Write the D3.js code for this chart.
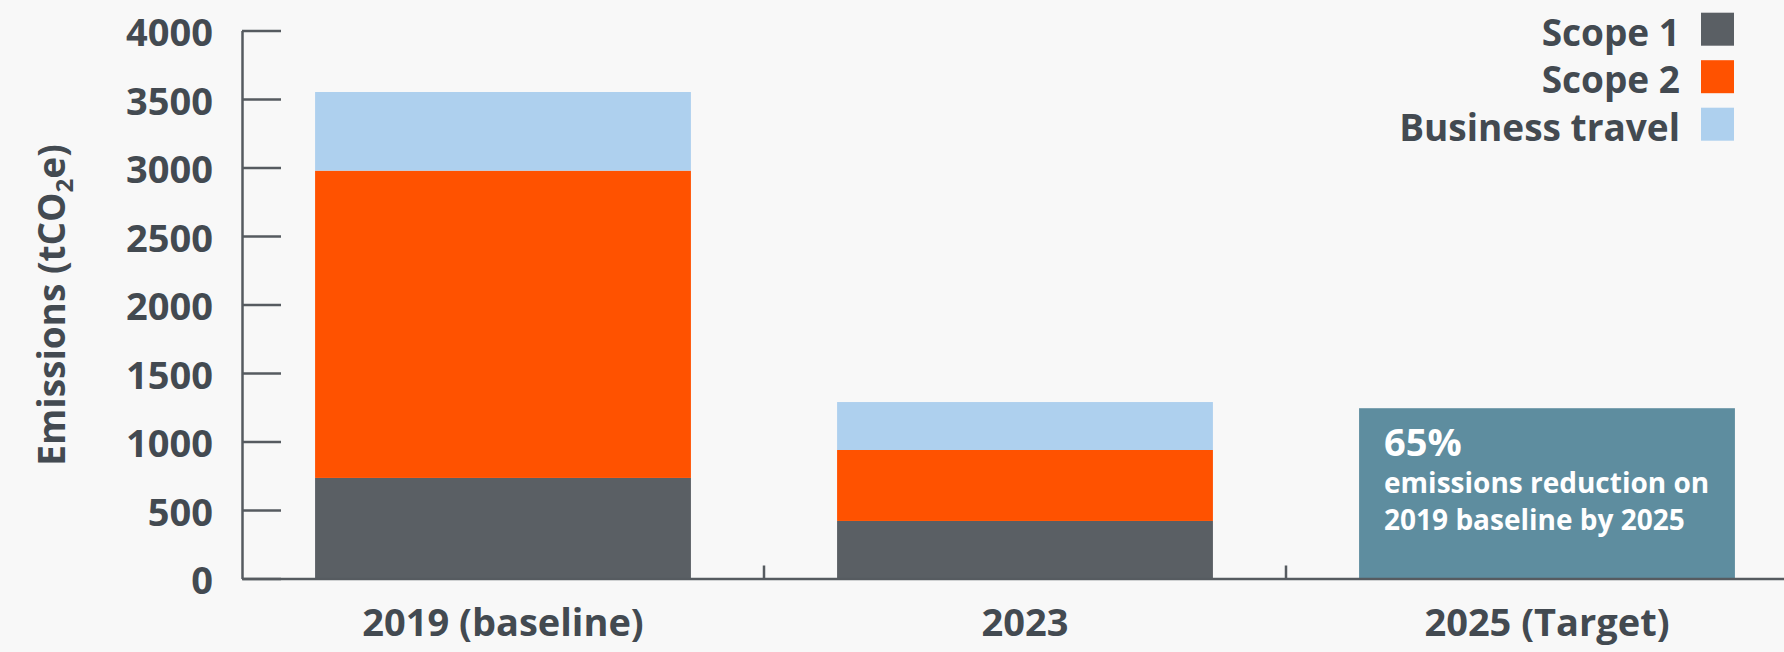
<!DOCTYPE html>
<html>
<head>
<meta charset="utf-8">
<script src="https://cdn.jsdelivr.net/npm/d3@7"></script>
<style>
  body { margin: 0; background: #f8f8f8; }
  svg { display: block; font-family: "Open Sans", sans-serif; font-weight: 700; }
</style>
</head>
<body>
<script>
// values (tCO2e)
var categories = ["2019 (baseline)", "2023", "2025 (Target)"];
var years = ["2019 (baseline)", "2023"];
var scope1 = [734, 420];
var scope2 = [2243, 518];
var travel = [574, 350];
var target = 1243;
var targetText = ["65%", "emissions reduction on", "2019 baseline by 2025"];
var yTicks = [0, 500, 1000, 1500, 2000, 2500, 3000, 3500, 4000];
var keys = ["Scope 1", "Scope 2", "Business travel"];
var colors = ["#5a5f64", "#ff5200", "#aed0ee"];

var width = 1784, height = 652;
var textColor = "#434a51", axisColor = "#565b60";

var svg = d3.select("body").append("svg")
  .attr("width", width)
  .attr("height", height);

var x = d3.scaleBand()
  .domain(categories)
  .range([242, 1808])
  .paddingInner(0.28)
  .paddingOuter(0.14);

var y = d3.scaleLinear()
  .domain([0, 4000])
  .range([578.5, 30.5]);

var color = d3.scaleOrdinal().domain(keys).range(colors);

var rows = years.map(function(c, i) {
  return {cat: c, "Scope 1": scope1[i], "Scope 2": scope2[i], "Business travel": travel[i]};
});
var series = d3.stack().keys(keys)(rows);

// stacked bars
svg.append("g").selectAll("g")
  .data(series)
  .enter().append("g")
  .attr("fill", function(d) { return color(d.key); })
  .selectAll("rect")
  .data(function(d) { return d; })
  .enter().append("rect")
  .attr("x", function(d) { return x(d.data.cat); })
  .attr("y", function(d) { return y(d[1]); })
  .attr("width", x.bandwidth())
  .attr("height", function(d) { return y(d[0]) - y(d[1]); });

// target box
var tc = categories[2];
svg.append("rect")
  .attr("x", x(tc))
  .attr("y", y(target))
  .attr("width", x.bandwidth())
  .attr("height", y(0) - y(target))
  .attr("fill", "#5e8d9f");

var tt = svg.append("text")
  .attr("fill", "#ffffff");
tt.append("tspan")
  .attr("x", x(tc) + 25)
  .attr("y", 456)
  .attr("font-size", "38px")
  .text(targetText[0]);
tt.append("tspan")
  .attr("x", x(tc) + 25)
  .attr("y", 493)
  .attr("font-size", "28px")
  .text(targetText[1]);
tt.append("tspan")
  .attr("x", x(tc) + 25)
  .attr("y", 530)
  .attr("font-size", "28px")
  .text(targetText[2]);

// y axis, ticks pointing inward
var yAxis = svg.append("g")
  .attr("transform", "translate(242,0)")
  .call(d3.axisLeft(y).tickValues(yTicks).tickFormat(d3.format("d"))
    .tickSizeInner(-39).tickSizeOuter(0).tickPadding(29));
yAxis.select(".domain").attr("stroke", axisColor).attr("stroke-width", 2.5);
yAxis.selectAll(".tick line").attr("stroke", axisColor).attr("stroke-width", 2.5);
yAxis.selectAll(".tick text")
  .attr("fill", textColor)
  .attr("font-size", "38px")
  .attr("font-family", "Open Sans, sans-serif")
  .attr("font-weight", 700)
  .attr("dy", "0.4em");

// x axis
var xAxis = svg.append("g")
  .attr("transform", "translate(0," + y(0) + ")")
  .call(d3.axisBottom(x).tickSize(0).tickPadding(31));
xAxis.select(".domain").attr("stroke", axisColor).attr("stroke-width", 2.5);
xAxis.selectAll(".tick text")
  .attr("fill", textColor)
  .attr("font-size", "38px")
  .attr("font-family", "Open Sans, sans-serif")
  .attr("font-weight", 700);

// small separators between categories
var gap = (x.step() - x.bandwidth()) / 2;
svg.append("g").selectAll("line")
  .data(categories.slice(1))
  .enter().append("line")
  .attr("x1", function(d) { return x(d) - gap; })
  .attr("x2", function(d) { return x(d) - gap; })
  .attr("y1", y(0) - 13)
  .attr("y2", y(0))
  .attr("stroke", axisColor)
  .attr("stroke-width", 2.5);

// y axis title
var yt = svg.append("text")
  .attr("transform", "translate(65,305) rotate(-90)")
  .attr("text-anchor", "middle")
  .attr("fill", textColor)
  .attr("font-size", "37px");
yt.append("tspan").text("Emissions (tCO");
yt.append("tspan").attr("font-size", "24px").attr("dy", "8").text("2");
yt.append("tspan").attr("dy", "-8").text("e)");

// legend
var legend = svg.append("g").selectAll("g")
  .data(keys)
  .enter().append("g")
  .attr("transform", function(d, i) { return "translate(0," + (i * 47.5) + ")"; });
legend.append("rect")
  .attr("x", 1701)
  .attr("y", 12.7)
  .attr("width", 33)
  .attr("height", 33)
  .attr("fill", function(d) { return color(d); });
legend.append("text")
  .attr("x", 1680)
  .attr("y", 45.5)
  .attr("text-anchor", "end")
  .attr("fill", textColor)
  .attr("font-size", "37px")
  .text(function(d) { return d; });
</script>
</body>
</html>
